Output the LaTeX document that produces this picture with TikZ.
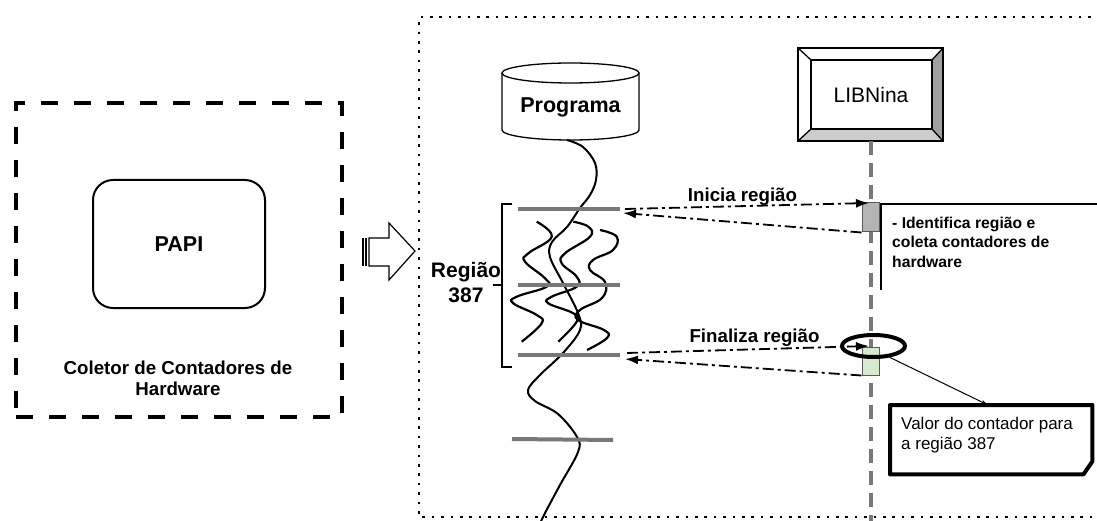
\documentclass[tikz,border=0pt]{standalone}
\usepackage{fontspec}
\setmainfont{Liberation Sans}
\usetikzlibrary{arrows.meta,shapes.geometric,calc}
\definecolor{lgray}{RGB}{120,120,120}
\definecolor{actgray}{RGB}{180,180,180}
\definecolor{actgreen}{RGB}{214,234,206}
\definecolor{bevright}{RGB}{160,160,160}
\definecolor{bevbottom}{RGB}{204,204,204}
\begin{document}
\begin{tikzpicture}[x=1pt,y=-1pt,
  msg/.style={line width=1.8pt, dash pattern=on 11pt off 4pt on 3pt off 4pt, -{Latex[length=13pt,width=9pt]}},
  grayline/.style={line width=4pt, draw=lgray},
  thread/.style={line width=2pt},
  wiggle/.style={line width=2.2pt},
  dotframe/.style={line width=2.6pt, dash pattern=on 2.6pt off 6.8pt},
  lifeline/.style={line width=3.5pt, draw=lgray, dash pattern=on 14pt off 8pt},
  actbox/.style={draw=black!65, line width=1pt, minimum width=17pt, inner sep=0pt},
  bigb/.style={font=\fontsize{21.5pt}{25pt}\selectfont\bfseries},
  midb/.style={font=\fontsize{18.7pt}{21.7pt}\selectfont\bfseries},
]
\clip (0,0) rectangle (1097,521);

% ---------- left: collector ----------
\node[draw, line width=4pt, dash pattern=on 17pt off 16pt, minimum width=326pt, minimum height=314pt, inner sep=0pt] (coll) at (179,260) {};
\node[draw, line width=2pt, rounded corners=20pt, minimum width=172pt, minimum height=128pt, inner sep=0pt, bigb] (papi) at (179,244) {PAPI};
\node[anchor=north, align=center, inner sep=0pt, midb] (colltxt) at (178,360.4) {Coletor de Contadores de\\Hardware};

% ---------- block arrow ----------
\draw[line width=1.2pt] (363,238) -- (363,266);
\draw[line width=1.2pt] (366,238) -- (366,266);
\draw[line width=1.2pt, fill=white] (369,238) -- (389,238) -- (389,223) -- (415,251) -- (389,280) -- (389,266) -- (369,266) -- cycle;

% ---------- dotted frame ----------
\draw[dotframe] (1100,17) -- (419,17) -- (419,517) -- (1100,517);

% ---------- Programa cylinder ----------
\draw[line width=1.3pt, fill=white] (502,73) -- (502,130) arc[start angle=180, end angle=0, x radius=68.5, y radius=10] -- (639,73);
\draw[line width=1.3pt] (570.5,73) ellipse[x radius=68.5, y radius=10];
\node[bigb, inner sep=0pt] (prog) at (570.5,107.7) {Programa};
\coordinate (progbot) at (567,140);
\coordinate (threadend) at (540,525);

% ---------- bracket ----------
\draw[line width=2pt] (512,204) -- (502,204) -- (502,367) -- (512,367);
\draw[line width=2pt] (502,285) -- (493,285);
\node[anchor=north, align=center, inner sep=0pt, font=\fontsize{21pt}{25.5pt}\selectfont\bfseries] (reg) at (466,261.7) {Região\\387};

% ---------- wiggles ----------
\draw[wiggle] plot[smooth, tension=0.7] coordinates {(536.7,221.7) (551.7,236.7) (528.3,253.3) (525,261.7) (545,278.3) (546.7,286.7) (516.7,296.7) (513.3,303.3) (536.7,315) (541.7,323.3) (521.7,341.7)};
\draw[wiggle] plot[smooth, tension=0.7] coordinates {(573.3,221.7) (588.3,226.7) (590,236.7) (565,253.3) (561.7,263.3) (576.7,276.7) (576.7,286.7) (551.7,296.7) (548.3,303.3) (573.3,313.3) (576.7,321.7) (558.3,341.7)};
\draw[wiggle] plot[smooth, tension=0.7] coordinates {(600,230) (616.7,236.7) (613,250) (593,260) (590,270) (605,282) (602,298) (580,310) (578,320) (604,330) (607,338) (587,350)};

% ---------- main thread ----------
\draw[thread] plot[smooth, tension=0.6] coordinates {(progbot) (583,147) (595,163) (596,180) (590,195) (580,208) (567,227) (552,242) (550,257) (563,283) (578,313) (580,330) (563,353) (540,375) (528,390) (535,401) (558,414) (577,437) (578,452) (560,485) (543,517) (threadend)};

% ---------- gray region lines ----------
\coordinate (l1a) at (518,209); \coordinate (l1b) at (620,209);
\coordinate (l2a) at (518,285); \coordinate (l2b) at (620,285);
\coordinate (l3a) at (518,355); \coordinate (l3b) at (620,355);
\coordinate (l4a) at (512,439); \coordinate (l4b) at (613,440);
\draw[grayline] (l1a) -- (l1b);
\draw[grayline] (l2a) -- (l2b);
\draw[grayline] (l3a) -- (l3b);
\draw[grayline] (l4a) -- (l4b);

% ---------- LIBNina ----------
\node[minimum width=145pt, minimum height=93pt, inner sep=0pt, font=\fontsize{21pt}{25pt}\selectfont] (libn) at (870.5,94.5) {};
\fill[bevright] (943,48) -- (943,141) -- (932,129) -- (932,60) -- cycle;
\fill[bevbottom] (798,141) -- (943,141) -- (932,129) -- (811,129) -- cycle;
\draw[line width=1.3pt] (798,48) -- (811,60) (943,48) -- (932,60) (798,141) -- (811,129) (943,141) -- (932,129);
\draw[line width=2pt] (798,48) rectangle (943,141);
\draw[line width=2.5pt] (811,60) rectangle (932,129);
\node[inner sep=0pt, anchor=base, font=\fontsize{21pt}{25pt}\selectfont] (libtxt) at (871,102.7) {LIBNina};

% ---------- lifeline ----------
\coordinate (lifeend) at (871,525);
\draw[lifeline] (871,141) -- (lifeend);

% ---------- note 1 ----------
\draw[line width=1.5pt] (1100,204) -- (881,204) -- (881,290);
\node[anchor=north west, align=left, inner sep=0pt, font=\fontsize{15.7pt}{19.5pt}\selectfont\bfseries] (ident) at (892,216.6) {- Identifica região e\\coleta contadores de\\hardware};

% ---------- activation boxes ----------
\node[actbox, fill=actgray, minimum height=29pt] (act1) at (870.5,217.5) {};
\node[actbox, fill=actgreen, minimum height=28pt] (act2) at (870.5,361) {};

% ---------- messages ----------
\coordinate (m1s) at (625,209); \coordinate (m1t) at (869,203);
\coordinate (r1t) at (623,213);
\coordinate (m2s) at (627,353); \coordinate (m2t) at (869,346);
\coordinate (r2t) at (625,359);
\draw[msg] (m1s) -- (m1t);
\draw[msg] (act1.south west) -- (r1t);
\draw[msg] (m2s) -- (m2t);
\draw[msg] (act2.south west) -- (r2t);
\node[midb, anchor=base, inner sep=0pt] (ini) at (742.5,202) {Inicia região};
\node[midb, anchor=base, inner sep=0pt] (fin) at (754.5,342) {Finaliza região};

% ---------- highlight ellipse ----------
\node[ellipse, draw, line width=4pt, minimum width=63pt, minimum height=22pt, inner sep=0pt] (hl) at (873.5,346) {};

% ---------- note 2 ----------
\node[minimum width=202pt, minimum height=69pt, inner sep=0pt, anchor=north west] (val) at (890,405) {};
\draw[line width=4pt, line join=round] (val.north west) -- (val.north east) -- ($(val.south east)+(0,-13)$) -- ($(val.south east)+(-9,0)$) -- (val.south west) -- cycle;
\node[anchor=north west, align=left, inner sep=0pt, font=\fontsize{17pt}{20.5pt}\selectfont] (valtxt) at (901,416.6) {Valor do contador para\\a região 387};
\draw[line width=1pt, -{Stealth[length=7pt,width=4pt]}] (hl.-35) -- ($(val.north west)+(98,0)$);

\end{tikzpicture}
\end{document}
